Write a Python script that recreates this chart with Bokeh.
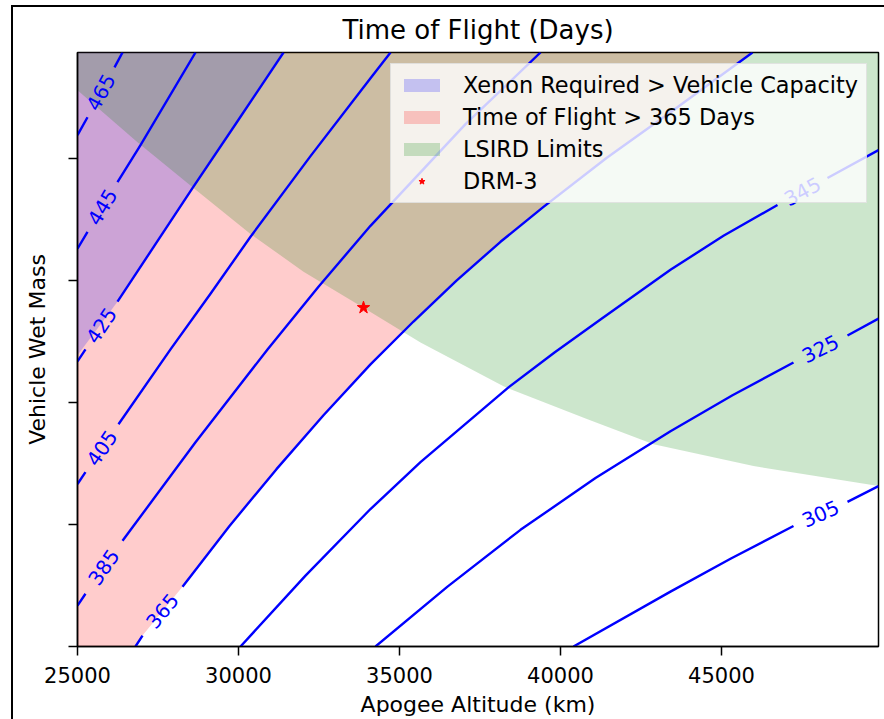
import math
from bokeh.plotting import figure
from bokeh.models import Range1d, FixedTicker, Legend, LegendItem
from bokeh.embed import file_html
from bokeh.resources import INLINE
from bokeh.core.properties import value

nan = float("nan")

# ---------------- data ----------------
X_MIN, X_MAX = 25000, 49876
Y_MIN, Y_MAX = 0.0, 4.873
x_ticks = [25000, 30000, 35000, 40000, 45000]
y_ticks = [0, 1, 2, 3, 4]
TITLE = "Time of Flight (Days)"

# Time-of-flight contours (apogee altitude km, vehicle wet mass); nan = label gap
tof_305_x = [40404, 43416, 45280, 47236, nan, 48913, 49876]
tof_305_y = [0.0, 0.450, 0.720, 0.989, nan, 1.186, 1.316]
tof_325_x = [34255, 36491, 38758, 41087, 43416, 45342, 47236, nan, 48913, 49876]
tof_325_y = [0.0, 0.491, 0.957, 1.382, 1.766, 2.061, 2.330, nan, 2.551, 2.690]
tof_345_x = [30062, 32081, 34099, 35652, 38385, 39814, 41242, 43416, 45062,
             46739, nan, 48292, 49876]
tof_345_y = [0.0, 0.581, 1.128, 1.513, 2.126, 2.412, 2.682, 3.091, 3.369,
             3.622, nan, 3.843, 4.072]
tof_365_x = [26801, 27019, nan, 28261, 29721, 31180, 32640, 34099, 35435,
             36770, 38137, 39472, 41429, 43416, 45963]
tof_365_y = [0.0, 0.090, nan, 0.491, 0.989, 1.455, 1.897, 2.314, 2.666,
             3.001, 3.320, 3.606, 4.007, 4.383, 4.873]
tof_385_x = [25000, 25248, nan, 26398, 28665, 30901, 32484, 34099, 37050, 39379]
tof_385_y = [0.335, 0.433, nan, 0.867, 1.676, 2.437, 2.952, 3.451, 4.285, 4.873]
tof_405_x = [25000, 25248, nan, 26273, 27888, 29130, 30373, 32236, 34099, 34721]
tof_405_y = [1.333, 1.431, nan, 1.823, 2.437, 2.894, 3.361, 4.023, 4.661, 4.873]
tof_425_x = [25000, 25248, nan, 26242, 28571, 29969, 31398]
tof_425_y = [2.339, 2.437, nan, 2.829, 3.761, 4.309, 4.873]
tof_445_x = [25000, 25311, nan, 26242, 26957, 28665]
tof_445_y = [3.263, 3.401, nan, 3.810, 4.113, 4.873]
tof_465_x = [25000, 25311, nan, 26149, 26398]
tof_465_y = [4.195, 4.342, nan, 4.751, 4.873]

contour_levels = [305, 325, 345, 365, 385, 405, 425, 445, 465]
contour_xs = [tof_305_x, tof_325_x, tof_345_x, tof_365_x, tof_385_x,
              tof_405_x, tof_425_x, tof_445_x, tof_465_x]
contour_ys = [tof_305_y, tof_325_y, tof_345_y, tof_365_y, tof_385_y,
              tof_405_y, tof_425_y, tof_445_y, tof_465_y]

# Region boundaries
tof_limit_x = [v for v in tof_365_x if v == v]          # time of flight = 365 days
tof_limit_y = [v for v in tof_365_y if v == v]
xenon_limit_x = [25000, 26242, 28571, 29969, 31398]      # xenon capacity limit
xenon_limit_y = [2.39, 2.829, 3.761, 4.309, 4.873]
lsird_limit_x = [25000, 26863, 28603, 30373, 32019, 33882, 35652, 38230,
                 40839, 42889, 45994, 49876]
lsird_limit_y = [4.563, 4.137, 3.761, 3.385, 3.074, 2.780, 2.494, 2.134,
                 1.864, 1.660, 1.480, 1.316]

drm3_x = [33882]
drm3_y = [2.780]

# ---------------- layout / style ----------------
FONT = "DejaVu Sans"
FRAME_W, FRAME_H = 801, 596

p = figure(width=884, height=719, output_backend="svg", toolbar_location=None,
           x_range=Range1d(X_MIN, X_MAX), y_range=Range1d(Y_MIN, Y_MAX),
           min_border_left=77, min_border_right=6, min_border_top=52,
           min_border_bottom=71, title=TITLE)
# outer picture frame (left and top edges) painted behind a transparent border area
p.styles = {
    "background": "linear-gradient(#000, #000) 11px 5px / 2px 714px no-repeat, "
                  "linear-gradient(#000, #000) 11px 5px / 873px 2px no-repeat, white"
}
p.border_fill_alpha = 0.0
p.background_fill_color = "white"
p.xgrid.visible = False
p.ygrid.visible = False
p.outline_line_color = "black"
p.outline_line_width = 1.5

p.title.text_font = FONT
p.title.text_font_size = "26px"
p.title.text_font_style = "normal"
p.title.text_color = "black"
p.title.align = "center"
p.title.standoff = 16

for ax in (p.xaxis[0], p.yaxis[0]):
    ax.axis_line_color = "black"
    ax.axis_line_width = 1.5
    ax.major_tick_line_color = "black"
    ax.major_tick_line_width = 1.5
    ax.major_tick_in = 0
    ax.major_tick_out = 9
    ax.minor_tick_line_color = None
    ax.major_label_text_font = FONT
    ax.major_label_text_font_size = "21px"
    ax.major_label_text_color = "black"
    ax.axis_label_text_font = FONT
    ax.axis_label_text_font_size = "22px"
    ax.axis_label_text_font_style = "normal"
    ax.axis_label_text_color = "black"

p.xaxis.ticker = FixedTicker(ticks=x_ticks)
p.xaxis.major_label_standoff = 11
p.xaxis.axis_label = "Apogee Altitude (km)"
p.xaxis.axis_label_standoff = 6

p.yaxis.ticker = FixedTicker(ticks=y_ticks)
p.yaxis.major_label_overrides = {t: "" for t in y_ticks}
p.yaxis.major_label_text_color = None
p.yaxis.major_label_standoff = 0
p.yaxis.axis_label = "Vehicle Wet Mass"
p.yaxis.axis_label_standoff = 19

# ---------------- regions ----------------
red_x = [X_MIN] + tof_limit_x + [X_MIN]
red_y = [Y_MIN] + tof_limit_y + [Y_MAX]
r_red = p.patch(red_x, red_y, fill_color="red", fill_alpha=0.2, line_color=None)

blue_x = xenon_limit_x + [X_MIN]
blue_y = xenon_limit_y + [Y_MAX]
r_blue = p.patch(blue_x, blue_y, fill_color="blue", fill_alpha=0.2, line_color=None)

green_x = lsird_limit_x + [X_MAX, X_MIN]
green_y = lsird_limit_y + [Y_MAX, Y_MAX]
r_green = p.patch(green_x, green_y, fill_color="green", fill_alpha=0.2, line_color=None)

# ---------------- contours ----------------
sx = FRAME_W / (X_MAX - X_MIN)
sy = FRAME_H / (Y_MAX - Y_MIN)
lab_x, lab_y, lab_t, lab_a = [], [], [], []
for lvl, xs, ys in zip(contour_levels, contour_xs, contour_ys):
    p.line(xs, ys, line_color="blue", line_width=2.4, line_join="round")
    i = next(k for k, v in enumerate(xs) if v != v)
    x1, y1, x2, y2 = xs[i - 1], ys[i - 1], xs[i + 1], ys[i + 1]
    lab_x.append((x1 + x2) / 2)
    lab_y.append((y1 + y2) / 2)
    lab_t.append(str(lvl))
    lab_a.append(math.atan2((y2 - y1) * sy, (x2 - x1) * sx))

p.text(x=lab_x, y=lab_y, text=lab_t, angle=lab_a, text_align="center",
       text_baseline="middle", text_color="blue", text_font_size="20px",
       text_font=value(FONT))

r_star = p.scatter(drm3_x, drm3_y, marker="star", size=13,
                   fill_color="red", line_color="red")

legend = Legend(items=[
    LegendItem(label="Xenon Required > Vehicle Capacity", renderers=[r_blue]),
    LegendItem(label="Time of Flight > 365 Days", renderers=[r_red]),
    LegendItem(label="LSIRD Limits", renderers=[r_green]),
    LegendItem(label="DRM-3", renderers=[r_star]),
], location="top_right")
legend.label_text_font = FONT
legend.label_text_font_size = "22.4px"
legend.label_text_color = "black"
legend.glyph_width = 45
legend.glyph_height = 16
legend.label_standoff = 19
legend.padding = 8
legend.spacing = 6
legend.margin = 11
legend.background_fill_color = "white"
legend.background_fill_alpha = 0.8
legend.border_line_color = "#cccccc"
legend.border_line_width = 1
p.add_layout(legend)

open("out.html", "w").write(file_html(p, INLINE))
